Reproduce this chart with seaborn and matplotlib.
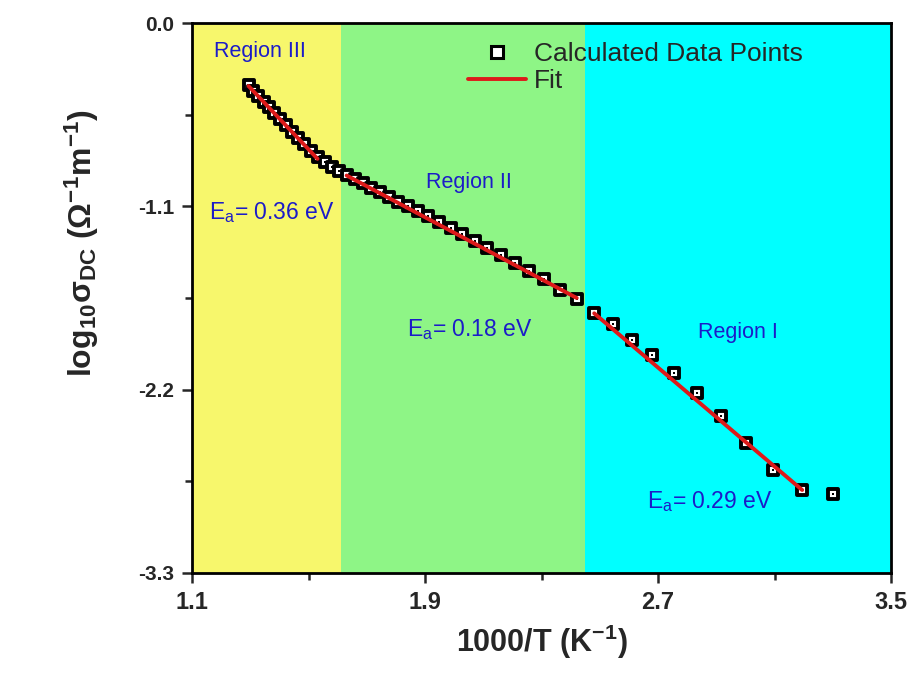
import numpy as np
import pandas as pd
import matplotlib
matplotlib.use("Agg")
import matplotlib.pyplot as plt
import seaborn as sns
from matplotlib.lines import Line2D
from matplotlib.ticker import FixedLocator

# ---------------- data ----------------
inv_T = [1.294, 1.311, 1.328, 1.346, 1.364, 1.383, 1.403, 1.423, 1.443, 1.464,
         1.486, 1.508, 1.531, 1.555, 1.580, 1.605, 1.631, 1.658, 1.686, 1.715,
         1.745, 1.776, 1.808, 1.842, 1.876, 1.912, 1.949, 1.988, 2.028, 2.070,
         2.114, 2.160, 2.208, 2.257, 2.310, 2.364, 2.421, 2.481, 2.545, 2.611,
         2.681, 2.755, 2.833, 2.916, 3.003, 3.096, 3.195, 3.300]
log_sigma = [-0.372, -0.405, -0.438, -0.472, -0.506, -0.541, -0.577, -0.614, -0.652, -0.690,
             -0.728, -0.766, -0.802, -0.835, -0.862, -0.888, -0.912, -0.937, -0.962, -0.989,
             -1.016, -1.043, -1.071, -1.100, -1.130, -1.160, -1.195, -1.232, -1.268, -1.306,
             -1.348, -1.392, -1.438, -1.487, -1.538, -1.600, -1.655, -1.742, -1.808, -1.902,
             -1.992, -2.098, -2.222, -2.358, -2.522, -2.682, -2.802, -2.826]

# fit segments (end points)
fit3_x = [1.294, 1.531]
fit3_y = [-0.378, -0.815]
fit2_x = [1.631, 2.421]
fit2_y = [-0.915, -1.650]
fit1_x = [2.481, 3.195]
fit1_y = [-1.742, -2.802]

region_edges = [1.1, 1.61, 2.45, 3.5]
region_colors = ["#F7F76C", "#8EF586", "#00FFFF"]

region_labels = ["Region III", "Region II", "Region I"]
region_label_x = [1.333, 2.050, 2.973]
region_label_y = [-0.17, -0.955, -1.855]
ea_labels = ["0.36", "0.18", "0.29"]
ea_x = [1.375, 2.055, 2.879]
ea_y = [-1.14, -1.84, -2.87]

xticks = [1.1, 1.9, 2.7, 3.5]
xminor = [1.5, 2.3, 3.1]
yticks = [0.0, -1.1, -2.2, -3.3]
yminor = [-0.55, -1.65, -2.75]

# ---------------- style ----------------
sns.set_theme(style="ticks")
plt.rcParams["font.family"] = ["Liberation Sans", "DejaVu Sans"]
plt.rcParams["mathtext.fontset"] = "custom"
plt.rcParams["mathtext.rm"] = "Liberation Sans"
plt.rcParams["mathtext.it"] = "Liberation Sans"
plt.rcParams["mathtext.bf"] = "Liberation Sans:bold"

fig = plt.figure(figsize=(9.09, 6.83), dpi=100)
ax = fig.add_axes([192/909, 1-573/683, (891-192)/909, (573-23)/683])

for i, c in enumerate(region_colors):
    ax.axvspan(region_edges[i], region_edges[i+1], color=c, lw=0, zorder=0)

df = pd.DataFrame({"x": inv_T, "y": log_sigma})
sns.scatterplot(data=df, x="x", y="y", ax=ax, marker="s", s=58,
                facecolor="white", edgecolor="black", linewidth=2.8, zorder=3)
sns.scatterplot(data=df, x="x", y="y", ax=ax, marker="s", s=2,
                color="black", linewidth=0, zorder=4)

red = "#DD1A1A"
for fx, fy in [(fit3_x, fit3_y), (fit2_x, fit2_y), (fit1_x, fit1_y)]:
    sns.lineplot(x=fx, y=fy, ax=ax, color=red, lw=2.8, zorder=5)

blue = "#1C1CC8"
for lab, x, y in zip(region_labels, region_label_x, region_label_y):
    ax.text(x, y, lab, color=blue, fontsize=15.5, ha="center", va="center")
for lab, x, y in zip(ea_labels, ea_x, ea_y):
    ax.text(x, y, r"E$_\mathregular{a}$= " + lab + " eV", color=blue, fontsize=16.5,
            ha="center", va="center")

ax.set_xlim(1.1, 3.5)
ax.set_ylim(-3.3, 0.0)
ax.xaxis.set_major_locator(FixedLocator(xticks))
ax.xaxis.set_minor_locator(FixedLocator(xminor))
ax.yaxis.set_major_locator(FixedLocator(yticks))
ax.yaxis.set_minor_locator(FixedLocator(yminor))
ax.set_xticklabels([f"{v:.1f}" for v in xticks], fontsize=17, fontweight="bold")
ax.set_yticklabels([f"{v:.1f}" for v in yticks], fontsize=15, fontweight="bold")
ax.tick_params(which="major", direction="out", length=7, width=1.8, pad=6)
ax.tick_params(which="minor", direction="out", length=5, width=1.8)

for s in ax.spines.values():
    s.set_linewidth(2.0)
    s.set_color("black")

ax.set_xlabel(r"$\mathbf{1000/T\ (K^{-1})}$", fontsize=22, labelpad=6)
ax.set_ylabel(r"$\mathbf{log_{10}\sigma_{DC}\ (\Omega^{-1}m^{-1})}$", fontsize=23)
ax.yaxis.set_label_coords(-0.13, 0.6)

handles = [
    Line2D([], [], marker="s", ls="none", markersize=8, markerfacecolor="white",
           markeredgecolor="black", markeredgewidth=2.2),
    Line2D([], [], color=red, lw=2.8),
]
ax.legend(handles, ["Calculated Data Points", "Fit"], loc="upper left",
          bbox_to_anchor=(0.395, 0.965), frameon=False, fontsize=19,
          handlelength=2.2, handletextpad=0.3, labelspacing=0.1,
          borderpad=0, borderaxespad=0)

fig.savefig("out.png", dpi=100, facecolor="white")
